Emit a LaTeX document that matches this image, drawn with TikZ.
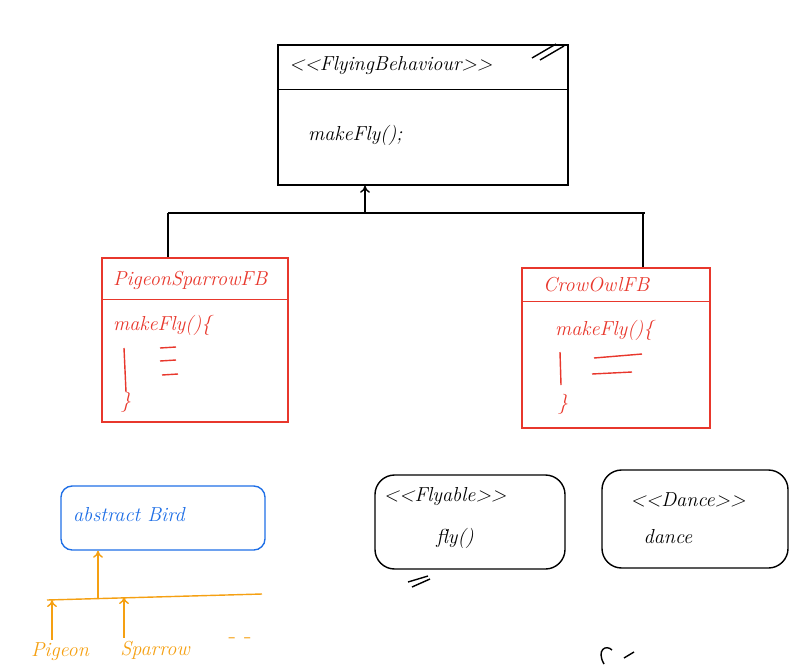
\documentclass[tikz,border=0pt]{standalone}
\usepackage{xcolor}
\usetikzlibrary{positioning, arrows.meta}
\definecolor{penred}{HTML}{E8372C}
\definecolor{penblue}{HTML}{1F6FE6}
\definecolor{penorange}{HTML}{F5A012}
\newcommand{\stereo}[1]{<\kern0pt<#1>\kern0pt>}

\begin{document}
\begin{tikzpicture}[x=0.025cm, y=-0.025cm, every node/.style={inner sep=2pt},
  pen/.style={line width=1pt},
  hand/.style={font=\Large\itshape},
  cls/.style={draw, pen},
  arrow/.style={-{To[length=5pt,width=7pt]}, pen}]
\useasboundingbox (0,0) rectangle (794,671);

% interface FlyingBehaviour
\node[cls, minimum width=7.25cm, minimum height=3.5cm] (FB) at (423,115) {};
\draw[pen] ([yshift=-1.125cm]FB.north west) -- ([yshift=-1.125cm]FB.north east);
\node[hand, anchor=west] (FBname) at (286,66) {\stereo{FlyingBehaviour}};
\node[hand, anchor=west] (FBop) at (305,135) {makeFly();};
\draw[pen] (532,58) -- (556,44) (540,60) -- (564,46);

% implementations
\begin{scope}[penred]
\node[cls, minimum width=4.65cm, minimum height=4.1cm] (PSFB) at (195,340) {};
\draw[pen] ([yshift=-1.05cm]PSFB.north west) -- ([yshift=-1.05cm]PSFB.north east);
\node[hand, anchor=west] (PSname) at (110,280) {PigeonSparrowFB};
\node[hand, anchor=west] (PSop) at (110,325) {makeFly()\{};
\draw[pen] (124,348) -- (126,392);
\node[hand] (PSend) at (126,402) {\}};
\draw[pen] (160,348) -- (176,347) (160,361) -- (176,360) (162,375) -- (178,374);

\node[cls, minimum width=4.7cm, minimum height=4cm] (COFB) at (616,348) {};
\draw[pen] ([yshift=-0.85cm]COFB.north west) -- ([yshift=-0.85cm]COFB.north east);
\node[hand, anchor=west] (COname) at (540,285) {CrowOwlFB};
\node[hand, anchor=west] (COop) at (552,330) {makeFly()\{};
\draw[pen] (560,352) -- (561,385);
\node[hand] (COend) at (563,404) {\}};
\draw[pen] (594,358) -- (642,354) (592,374) -- (632,372);
\end{scope}

% realisation links
\coordinate (bar) at (365,213);
\draw[pen] (168,213) -- (645,213);
\draw[arrow] (bar) -- (FB.south -| bar);
\draw[pen] (168,213) -- (PSFB.north -| 168,0);
\draw[pen] (643,213) -- (COFB.north -| 643,0);

% abstract class and subclasses
\begin{scope}[penblue]
\node[cls, rounded corners=8pt, minimum width=5.1cm, minimum height=1.6cm] (Bird) at (163,518) {};
\node[hand, anchor=west] (Birdname) at (70,515) {abstract Bird};
\end{scope}
\begin{scope}[penorange]
\draw[pen] (47,600) -- (262,594);
\draw[arrow] (98,598) -- (Bird.south -| 98,0);
\node[hand] (Pigeon) at (60,652) {Pigeon};
\node[hand] (Sparrow) at (155,650) {Sparrow};
\node[font=\LARGE] (etc) at (240,641) {-\,\,-};
\draw[arrow] (Pigeon.north -| 52,0) -- (52,600);
\draw[arrow] (Sparrow.north -| 124,0) -- (124,597);
\end{scope}

% interfaces
\node[cls, rounded corners=14pt, minimum width=4.75cm, minimum height=2.35cm] (Flyable) at (470,522) {};
\node[hand] (Flyname) at (445,497) {\stereo{Flyable}};
\node[hand] (Flyop) at (455,538) {fly()};
\draw[pen] (408,582) -- (428,576) (412,587) -- (430,579);

\node[cls, rounded corners=14pt, minimum width=4.65cm, minimum height=2.45cm] (Dance) at (695,519) {};
\node[hand] (Dancename) at (688,500) {\stereo{Dance}};
\node[hand] (Danceop) at (668,537) {dance};
\draw[pen] (604,664) .. controls (596,650) and (606,644) .. (612,650) (624,658) -- (634,652);
\end{tikzpicture}
\end{document}
